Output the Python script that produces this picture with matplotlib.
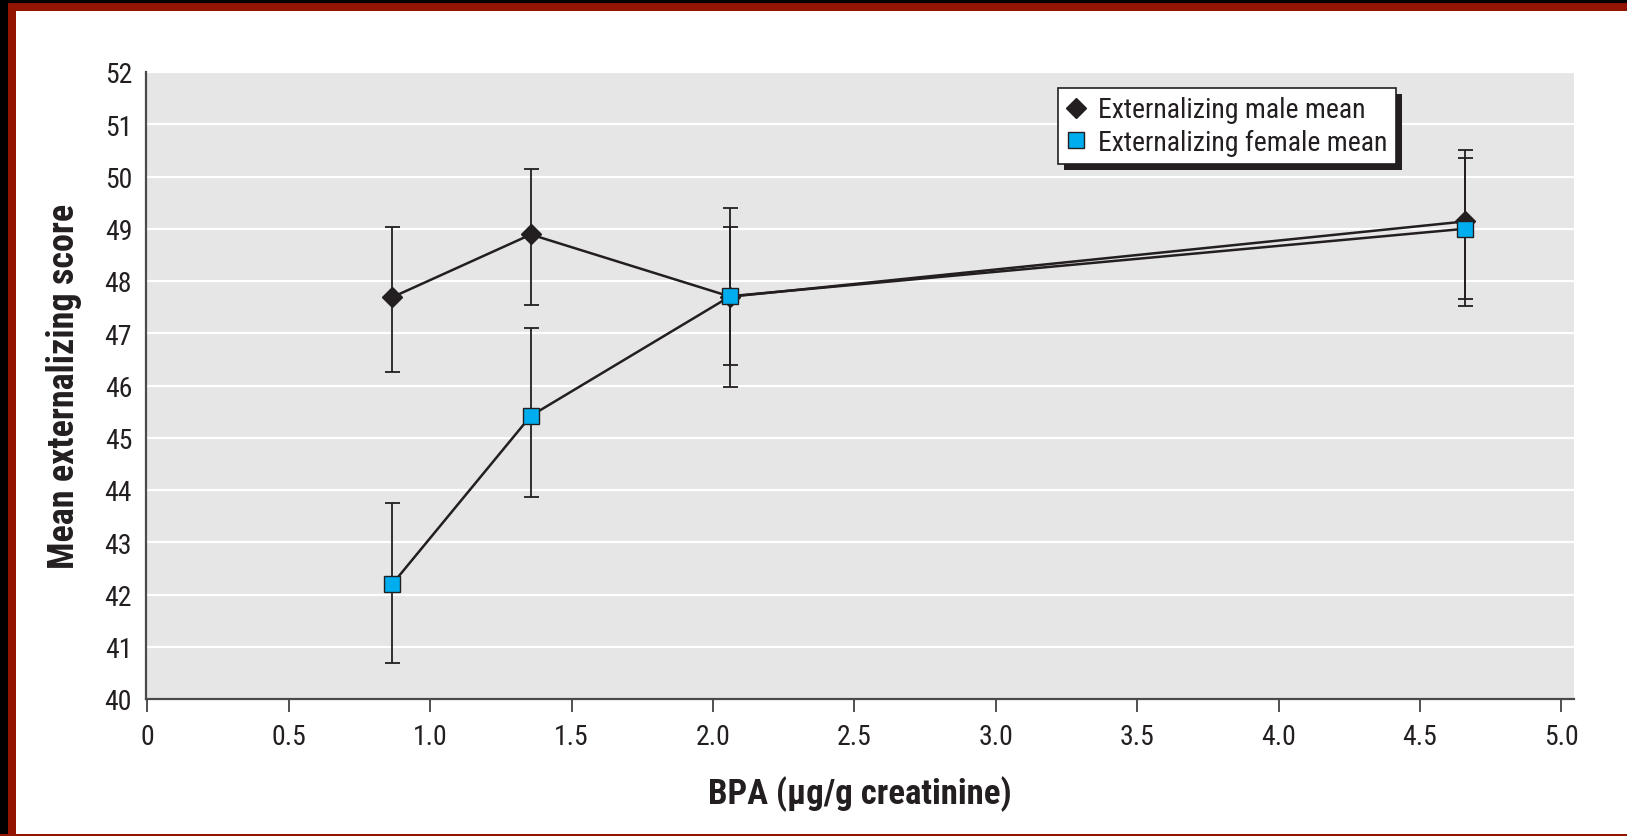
import matplotlib
matplotlib.use("Agg")
import matplotlib.pyplot as plt
from matplotlib.patches import Rectangle
from matplotlib.lines import Line2D
from matplotlib.transforms import IdentityTransform

# BPA quartile medians (x) and mean externalizing scores with error limits
bpa = [0.866, 1.356, 2.062, 4.66]
male_mean = [47.69, 48.89, 47.70, 49.14]
male_low = [46.26, 47.54, 46.40, 47.66]
male_high = [49.04, 50.15, 49.04, 50.51]
female_mean = [42.20, 45.42, 47.71, 49.00]
female_low = [40.69, 43.87, 45.98, 47.52]
female_high = [43.76, 47.10, 49.40, 50.35]

x_ticks = [0, 0.5, 1.0, 1.5, 2.0, 2.5, 3.0, 3.5, 4.0, 4.5, 5.0]
x_tick_labels = ["0", "0.5", "1.0", "1.5", "2.0", "2.5", "3.0", "3.5", "4.0", "4.5", "5.0"]
y_ticks = list(range(40, 53))

INK = "#231f20"
BLUE = "#00aeef"
FONT = ["Liberation Sans Narrow", "DejaVu Sans Condensed", "Roboto Condensed", "DejaVu Sans"]
plt.rcParams["font.family"] = FONT
plt.rcParams["font.stretch"] = "condensed"

W, H = 1627, 837
fig = plt.figure(figsize=(W / 100, H / 100), dpi=100)
ax = fig.add_axes([146 / W, 1 - 700 / H, 1428 / W, 627 / H])
ax.set_facecolor("#e6e6e6")

for s in ["top", "right"]:
    ax.spines[s].set_visible(False)
for s in ["left", "bottom"]:
    ax.spines[s].set_color("#4a4a4a")
    ax.spines[s].set_linewidth(1.6)

ax.grid(axis="y", color="white", linewidth=1.6)
ax.set_axisbelow(True)

err_m = [[m - l for m, l in zip(male_mean, male_low)],
         [h - m for m, h in zip(male_mean, male_high)]]
err_f = [[m - l for m, l in zip(female_mean, female_low)],
         [h - m for m, h in zip(female_mean, female_high)]]

ax.errorbar(bpa, male_mean, yerr=err_m, fmt="none", ecolor=INK,
            elinewidth=1.3, capsize=5.4, capthick=1.3, zorder=2)
ax.errorbar(bpa, female_mean, yerr=err_f, fmt="none", ecolor=INK,
            elinewidth=1.3, capsize=5.4, capthick=1.3, zorder=2)
ax.plot(bpa, male_mean, color=INK, linewidth=1.8, marker="D", markersize=10,
        markerfacecolor=INK, markeredgecolor=INK, zorder=3)
ax.plot(bpa, female_mean, color=INK, linewidth=1.8, marker="s", markersize=11,
        markerfacecolor=BLUE, markeredgecolor=INK, markeredgewidth=1.0, zorder=4)

ax.set_xlim(-0.005, 5.045)
ax.set_ylim(40, 52)
ax.set_xticks(x_ticks)
ax.set_xticklabels(x_tick_labels)
ax.set_yticks(y_ticks)
ax.tick_params(axis="x", direction="out", length=9.4, width=1.1, color=INK,
               labelsize=20, labelcolor=INK, pad=8)
ax.tick_params(axis="y", length=0, labelsize=20, labelcolor=INK, pad=10)

ax.set_xlabel("BPA (µg/g creatinine)", fontsize=25, fontweight="bold",
              color=INK, labelpad=18)
ax.set_ylabel("Mean externalizing score", fontsize=26, fontweight="bold",
              color=INK, labelpad=16)

handles = [
    Line2D([], [], linestyle="none", marker="D", markersize=10,
           markerfacecolor=INK, markeredgecolor=INK),
    Line2D([], [], linestyle="none", marker="s", markersize=11,
           markerfacecolor=BLUE, markeredgecolor=INK),
]
leg = ax.legend(handles, ["Externalizing male mean", "Externalizing female mean"],
                loc="upper left", bbox_to_anchor=((1058 - 146) / 1428, (700 - 89) / 627),
                fancybox=False, framealpha=1, edgecolor=INK, fontsize=20,
                handlelength=0.7, handletextpad=0.45, borderpad=0.3,
                labelspacing=0.2, borderaxespad=0)
leg.get_frame().set_linewidth(1.2)
for t in leg.get_texts():
    t.set_color(INK)

# dark drop shadow behind the legend box
fig.canvas.draw()
bb = leg.get_window_extent()
shadow = Rectangle((bb.x0 + 6, bb.y0 - 6), bb.width, bb.height, transform=IdentityTransform(),
                   facecolor=INK, edgecolor="none", zorder=4.9)
ax.add_artist(shadow)

# page frame: black/red strips on left and top, thin red line at bottom
fig.patches.extend([
    Rectangle((0, 0), 8 / W, 1, transform=fig.transFigure, facecolor="black", edgecolor="none"),
    Rectangle((8 / W, 0), 8 / W, 1 - 4 / H, transform=fig.transFigure, facecolor="#931400", edgecolor="none"),
    Rectangle((0, 1 - 4 / H), 1, 4 / H, transform=fig.transFigure, facecolor="black", edgecolor="none"),
    Rectangle((8 / W, 1 - 12 / H), 1, 8 / H, transform=fig.transFigure, facecolor="#931400", edgecolor="none"),
    Rectangle((0, 0), 1, 2 / H, transform=fig.transFigure, facecolor="#931400", edgecolor="none"),
])

fig.savefig("out.png", dpi=100)
